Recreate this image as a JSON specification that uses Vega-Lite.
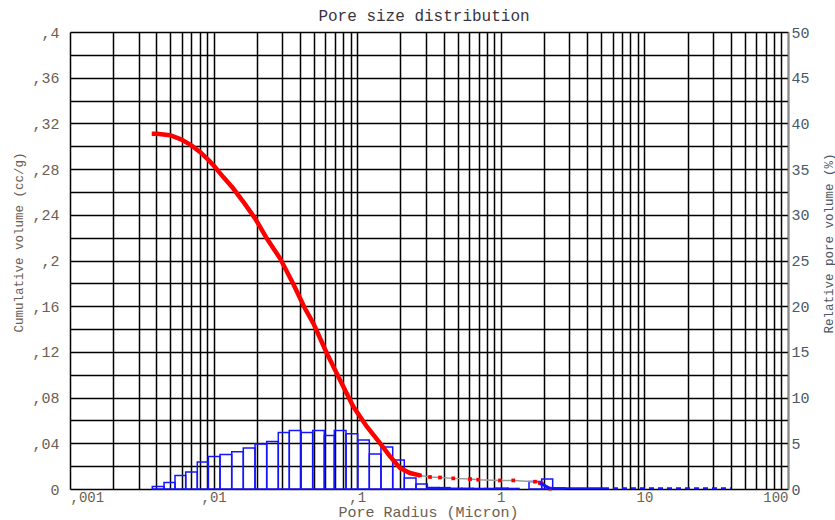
{
  "$schema": "https://vega.github.io/schema/vega-lite/v6.json",
  "width": 718,
  "height": 457,
  "autosize": {"type": "none"},
  "padding": {"left": 70, "top": 32, "right": 47, "bottom": 31},
  "background": "white",
  "config": {
    "view": {"stroke": null},
    "font": "Liberation Mono"
  },
  "title": {
    "text": "Pore size distribution",
    "font": "Liberation Mono",
    "fontSize": 16,
    "fontWeight": "normal",
    "color": "#3a3442",
    "anchor": "middle",
    "baseline": "bottom",
    "offset": 0,
    "dx": -5,
    "dy": 15
  },
  "datasets": {
    "bars": [
      {"x0": 0.003742, "x1": 0.004515, "pct": 0.28},
      {"x0": 0.004515, "x1": 0.005385, "pct": 0.72},
      {"x0": 0.005385, "x1": 0.006393, "pct": 1.49},
      {"x0": 0.006393, "x1": 0.0077, "pct": 1.86},
      {"x0": 0.0077, "x1": 0.00919, "pct": 2.95},
      {"x0": 0.00919, "x1": 0.01108, "pct": 3.56},
      {"x0": 0.01108, "x1": 0.01337, "pct": 3.78},
      {"x0": 0.01337, "x1": 0.0161, "pct": 4.08},
      {"x0": 0.0161, "x1": 0.01943, "pct": 4.48},
      {"x0": 0.01943, "x1": 0.02343, "pct": 4.92},
      {"x0": 0.02343, "x1": 0.02822, "pct": 5.2},
      {"x0": 0.02822, "x1": 0.03366, "pct": 6.19},
      {"x0": 0.03366, "x1": 0.04061, "pct": 6.4},
      {"x0": 0.04061, "x1": 0.04898, "pct": 6.19},
      {"x0": 0.04898, "x1": 0.05901, "pct": 6.4},
      {"x0": 0.05901, "x1": 0.06928, "pct": 5.86},
      {"x0": 0.06928, "x1": 0.08356, "pct": 6.4},
      {"x0": 0.08356, "x1": 0.1008, "pct": 6.05},
      {"x0": 0.1008, "x1": 0.1214, "pct": 5.36},
      {"x0": 0.1214, "x1": 0.1464, "pct": 3.83},
      {"x0": 0.1464, "x1": 0.1767, "pct": 4.59},
      {"x0": 0.1767, "x1": 0.2128, "pct": 3.17},
      {"x0": 0.2128, "x1": 0.2567, "pct": 1.2},
      {"x0": 0.2567, "x1": 0.3078, "pct": 0.55},
      {"x0": 0.3078, "x1": 0.3713, "pct": 0.17},
      {"x0": 0.3713, "x1": 0.4428, "pct": 0.15},
      {"x0": 0.4428, "x1": 0.5368, "pct": 0.08},
      {"x0": 0.5368, "x1": 0.6404, "pct": 0.08},
      {"x0": 0.6404, "x1": 0.7762, "pct": 0.06},
      {"x0": 0.7762, "x1": 0.926, "pct": 0.06},
      {"x0": 0.926, "x1": 1.122, "pct": 0.1},
      {"x0": 1.122, "x1": 1.339, "pct": 0.06},
      {"x0": 1.572, "x1": 1.927, "pct": 0.83},
      {"x0": 1.927, "x1": 2.298, "pct": 1.09},
      {"x0": 2.298, "x1": 2.8, "pct": 0.12}
    ],
    "curve": [
      {"r": 0.00371, "v": 0.311, "seg": "a"},
      {"r": 0.00402, "v": 0.311, "seg": "a"},
      {"r": 0.00497, "v": 0.3097, "seg": "a"},
      {"r": 0.00593, "v": 0.306, "seg": "a"},
      {"r": 0.00696, "v": 0.301, "seg": "a"},
      {"r": 0.00804, "v": 0.295, "seg": "a"},
      {"r": 0.00904, "v": 0.289, "seg": "a"},
      {"r": 0.00995, "v": 0.2835, "seg": "a"},
      {"r": 0.01168, "v": 0.273, "seg": "a"},
      {"r": 0.01372, "v": 0.263, "seg": "a"},
      {"r": 0.0161, "v": 0.2514, "seg": "a"},
      {"r": 0.01943, "v": 0.2369, "seg": "a"},
      {"r": 0.02343, "v": 0.2194, "seg": "a"},
      {"r": 0.029, "v": 0.2019, "seg": "a"},
      {"r": 0.0359, "v": 0.1794, "seg": "a"},
      {"r": 0.04, "v": 0.167, "seg": "a"},
      {"r": 0.0433, "v": 0.158, "seg": "a"},
      {"r": 0.0495, "v": 0.145, "seg": "a"},
      {"r": 0.0613, "v": 0.119, "seg": "a"},
      {"r": 0.0759, "v": 0.0955, "seg": "a"},
      {"r": 0.0939, "v": 0.0722, "seg": "a"},
      {"r": 0.1165, "v": 0.0547, "seg": "a"},
      {"r": 0.1441, "v": 0.0402, "seg": "a"},
      {"r": 0.1692, "v": 0.0285, "seg": "a"},
      {"r": 0.1987, "v": 0.0184, "seg": "a"},
      {"r": 0.2332, "v": 0.014, "seg": "a"},
      {"r": 0.2737, "v": 0.0119, "seg": "a"},
      {"r": 0.3214, "v": 0.0105, "seg": "b"},
      {"r": 0.3773, "v": 0.0101, "seg": "b"},
      {"r": 0.4669, "v": 0.0093, "seg": "b"},
      {"r": 0.6104, "v": 0.0087, "seg": "b"},
      {"r": 0.697, "v": 0.0081, "seg": "b"},
      {"r": 0.987, "v": 0.0075, "seg": "b"},
      {"r": 1.222, "v": 0.0075, "seg": "b"},
      {"r": 1.73, "v": 0.0064, "seg": "b"},
      {"r": 1.875, "v": 0.0052, "seg": "b"},
      {"r": 1.927, "v": 0.0046, "seg": "c"},
      {"r": 2.201, "v": 0.0003, "seg": "c"}
    ],
    "base": [
      {"r": 2.201, "v": 0.0007, "part": "solid"},
      {"r": 5.23, "v": 0.0007, "part": "solid"},
      {"r": 5.23, "v": 0.0007, "part": "dash"},
      {"r": 40, "v": 0.0007, "part": "dash"}
    ]
  },
  "layer": [
    {
      "data": {"name": "bars"},
      "mark": {"type": "rect", "filled": false, "stroke": "#1414ff", "strokeWidth": 1.5},
      "encoding": {
        "x": {
          "field": "x0",
          "type": "quantitative",
          "scale": {"type": "log", "domain": [0.001, 100], "nice": false},
          "axis": {
            "orient": "bottom",
            "values": [0.001, 0.002, 0.003, 0.004, 0.005, 0.006, 0.007, 0.008, 0.009, 0.01, 0.02, 0.03, 0.04, 0.05, 0.06, 0.07, 0.08, 0.09, 0.1, 0.2, 0.3, 0.4, 0.5, 0.6, 0.7, 0.8, 0.9, 1, 2, 3, 4, 5, 6, 7, 8, 9, 10, 20, 30, 40, 50, 60, 70, 80, 90, 100],
            "grid": true,
            "gridColor": "#000000",
            "gridWidth": 1.5,
            "gridOpacity": 1,
            "ticks": false,
            "domain": false,
            "labelFlush": true,
            "labelOverlap": false,
            "labelBound": false,
            "labelExpr": "datum.value == 0.001 ? ',001' : datum.value == 0.01 ? ',01' : datum.value == 0.1 ? ',1' : datum.value == 1 ? '1' : datum.value == 10 ? '10' : datum.value == 100 ? '100' : ''",
            "labelFont": "Liberation Mono",
            "labelFontSize": 14,
            "labelColor": "#6b5e52",
            "labelPadding": 1,
            "title": "Pore Radius (Micron)",
            "titleFont": "Liberation Mono",
            "titleFontSize": 15,
            "titleFontWeight": "normal",
            "titleColor": "#6b5e52",
            "titleX": 358,
            "titleY": 27,
            "titleBaseline": "alphabetic",
            "titleAlign": "center"
          }
        },
        "x2": {"field": "x1"},
        "y": {
          "field": "pct",
          "type": "quantitative",
          "scale": {"domain": [0, 50], "nice": false},
          "axis": {
            "orient": "right",
            "values": [0, 5, 10, 15, 20, 25, 30, 35, 40, 45, 50],
            "grid": false,
            "ticks": false,
            "domain": true,
            "domainColor": "#8a8a8a",
            "domainWidth": 1.5,
            "labelFont": "Liberation Mono",
            "labelFontSize": 15,
            "labelColor": "#4a5866",
            "labelPadding": 3,
            "labelOverlap": false,
            "labelBound": false,
            "title": "Relative pore volume (%)",
            "titleFont": "Liberation Mono",
            "titleFontSize": 12.5,
            "titleFontWeight": "normal",
            "titleColor": "#4a5866",
            "titleAngle": -90,
            "titleX": 40,
            "titleY": 211,
            "titleBaseline": "middle",
            "titleAlign": "center"
          }
        },
        "y2": {"datum": 0}
      }
    },
    {
      "data": {"name": "curve"},
      "encoding": {
        "x": {"field": "r", "type": "quantitative", "title": "Pore Radius (Micron)"},
        "y": {
          "field": "v",
          "type": "quantitative",
          "scale": {"domain": [0, 0.4], "nice": false},
          "axis": {
            "orient": "left",
            "values": [0, 0.02, 0.04, 0.06, 0.08, 0.1, 0.12, 0.14, 0.16, 0.18, 0.2, 0.22, 0.24, 0.26, 0.28, 0.3, 0.32, 0.34, 0.36, 0.38, 0.4],
            "grid": true,
            "gridColor": "#000000",
            "gridWidth": 1.5,
            "gridOpacity": 1,
            "ticks": false,
            "domain": false,
            "labelOverlap": false,
            "labelBound": false,
            "labelExpr": "round(datum.value * 100) % 4 != 0 ? '' : (datum.value == 0 ? '0' : replace(format(datum.value, '.2~f'), '0.', ','))",
            "labelFont": "Liberation Mono",
            "labelFontSize": 15,
            "labelColor": "#6b5e52",
            "labelPadding": 11,
            "title": "Cumulative volume (cc/g)",
            "titleFont": "Liberation Mono",
            "titleFontSize": 12.5,
            "titleFontWeight": "normal",
            "titleColor": "#6b5e52",
            "titleAngle": -90,
            "titleX": -52,
            "titleY": 210,
            "titleBaseline": "middle",
            "titleAlign": "center"
          }
        }
      },
      "layer": [
        {
          "transform": [{"filter": "datum.seg != 'c'"}],
          "mark": {"type": "line", "color": "#9a9a9a", "strokeWidth": 1.5}
        },
        {
          "transform": [{"filter": "datum.seg == 'a'"}],
          "mark": {"type": "line", "color": "#ff0000", "strokeWidth": 4.5, "strokeCap": "butt"}
        },
        {
          "transform": [{"filter": "datum.seg == 'b' || datum.r > 0.2"}],
          "mark": {"type": "square", "color": "#ff0000", "filled": true, "size": 14, "opacity": 1}
        },
        {
          "transform": [{"filter": "datum.seg == 'c' || datum.r == 1.875"}],
          "mark": {"type": "line", "color": "#1414ff", "strokeWidth": 3}
        }
      ]
    },
    {
      "data": {"name": "base"},
      "mark": {"type": "line", "color": "#1414ff", "strokeWidth": 2},
      "encoding": {
        "x": {"field": "r", "type": "quantitative", "title": "Pore Radius (Micron)"},
        "y": {"field": "v", "type": "quantitative", "axis": null, "scale": {"domain": [0, 0.4], "nice": false}},
        "detail": {"field": "part"},
        "strokeDash": {"field": "part", "type": "nominal", "scale": {"domain": ["solid", "dash"], "range": [[1, 0], [5, 4]]}, "legend": null}
      }
    }
  ],
  "resolve": {"scale": {"y": "independent"}}
}
